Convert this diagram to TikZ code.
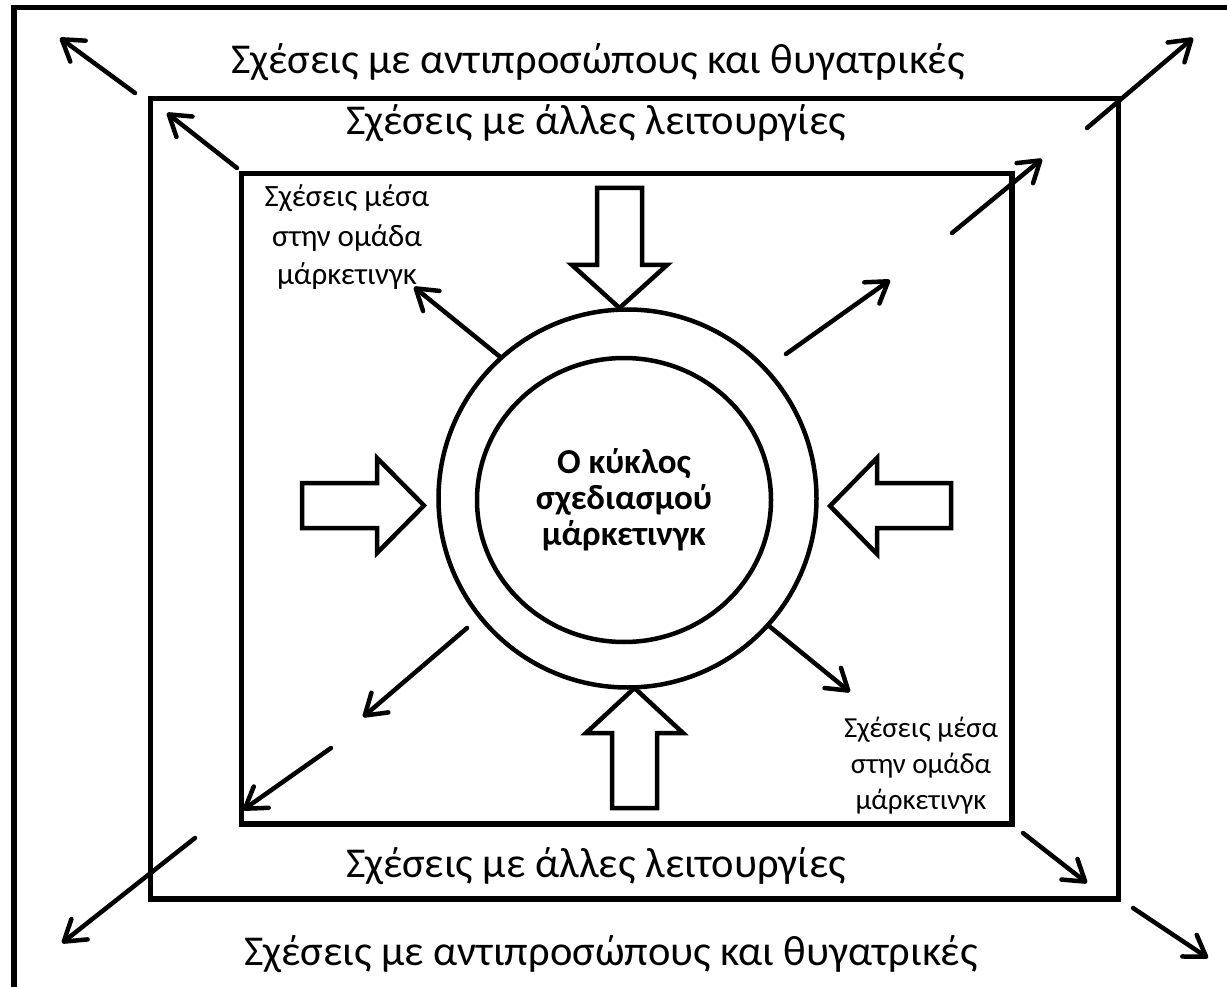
\documentclass[tikz,border=0pt]{standalone}
\usepackage{fontspec}
\setmainfont{Carlito}
\usetikzlibrary{arrows.meta,shapes.geometric}
\newcommand{\framew}{5.5pt}

\begin{document}
\begin{tikzpicture}[x=1pt, y=-1pt]
            \tikzset{frame/.style = {line width=\framew},
                     relarrow/.style = {line width=4.5pt, line cap=round, -{Straight Barb[length=20pt, width=26pt, round]}},
                     blockarrow/.style = {line width=4.5pt, line join=miter},
                     title/.style = {font=\fontsize{42.5}{50}\selectfont, anchor=base, inner sep=0pt},
                     note/.style = {font=\fontsize{31}{39}\selectfont, align=center, anchor=base, inner sep=0pt}}
            \useasboundingbox (0,0) rectangle (1227,987);
            \clip (0,0) rectangle (1227,987);
            \draw[frame] (14,7.5) rectangle (1245,1000);
            \draw[frame] (150.5,98.5) rectangle (1118.5,899);
            \draw[frame] (241.5,173.5) rectangle (1012,824);
            
            \node[circle, draw, line width=4.5pt, minimum size=378pt, inner sep=0pt] (ring) at (627.5,498.5) {};
            \node[ellipse, draw, line width=4.5pt, minimum width=294pt, minimum height=284pt, inner sep=0pt,
                  align=center, font=\bfseries\fontsize{35}{36}\selectfont] (core) at (624,500) {Ο κύκλος\\σχεδιασμού\\μάρκετινγκ};
            
            \node[title] (outtop) at (598,74) {Σχέσεις με αντιπροσώπους και θυγατρικές};
            \node[title] (midtop) at (596,135) {Σχέσεις με άλλες λειτουργίες};
            \node[title] (midbot) at (596,877) {Σχέσεις με άλλες λειτουργίες};
            \node[title] (outbot) at (611,965) {Σχέσεις με αντιπροσώπους και θυγατρικές};
            \node[note] (teamtl) at (347,285) {Σχέσεις μέσα\\στην ομάδα\\μάρκετινγκ};
            \node[note, font=\fontsize{29}{36}\selectfont] (teambr) at (921,809) {Σχέσεις μέσα\\στην ομάδα\\μάρκετινγκ};
            
            % hollow arrows pointing at the ring
            \draw[blockarrow] (597,188) -- (642,188) -- (642,265) -- (667,265) -- (619.5,308) -- (572,265) -- (597,265) -- cycle;
            \draw[blockarrow] (634.5,688) -- (683,733) -- (657,733) -- (657,808) -- (612,808) -- (612,733) -- (586,733) -- cycle;
            \draw[blockarrow] (302,483) -- (377,483) -- (377,458) -- (424,505.5) -- (377,553) -- (377,528) -- (302,528) -- cycle;
            \draw[blockarrow] (951,483) -- (877,483) -- (877,458) -- (830,506) -- (877,554) -- (877,528) -- (951,528) -- cycle;
            
            \coordinate (otl0) at (135,93);   \coordinate (otl1) at (60,38);
            \coordinate (mtl0) at (237,168);  \coordinate (mtl1) at (167,113);
            \coordinate (itl1) at (414,287);
            \coordinate (itr0) at (786,354);  \coordinate (itr1) at (890,280);
            \coordinate (mtr0) at (952,233);  \coordinate (mtr1) at (1042,159);
            \coordinate (otr0) at (1087,128); \coordinate (otr1) at (1193,38);
            \coordinate (ibl0) at (467,628);  \coordinate (ibl1) at (363,717);
            \coordinate (mbl0) at (331,748);  \coordinate (mbl1) at (243,810);
            \coordinate (obl0) at (195,838);  \coordinate (obl1) at (62,943);
            \coordinate (ibr1) at (850,692);
            \coordinate (mbr0) at (1023,833); \coordinate (mbr1) at (1087,883);
            \coordinate (obr0) at (1133,908); \coordinate (obr1) at (1208,958);
            
            \draw[relarrow] (otl0) -- (otl1);
            \draw[relarrow] (mtl0) -- (mtl1);
            \draw[relarrow] (ring.132) -- (itl1);
            \draw[relarrow] (itr0) -- (itr1);
            \draw[relarrow] (mtr0) -- (mtr1);
            \draw[relarrow] (otr0) -- (otr1);
            \draw[relarrow] (ibl0) -- (ibl1);
            \draw[relarrow] (mbl0) -- (mbl1);
            \draw[relarrow] (obl0) -- (obl1);
            \draw[relarrow] (ring.-42) -- (ibr1);
            \draw[relarrow] (mbr0) -- (mbr1);
            \draw[relarrow] (obr0) -- (obr1);
        \end{tikzpicture}
\end{document}
